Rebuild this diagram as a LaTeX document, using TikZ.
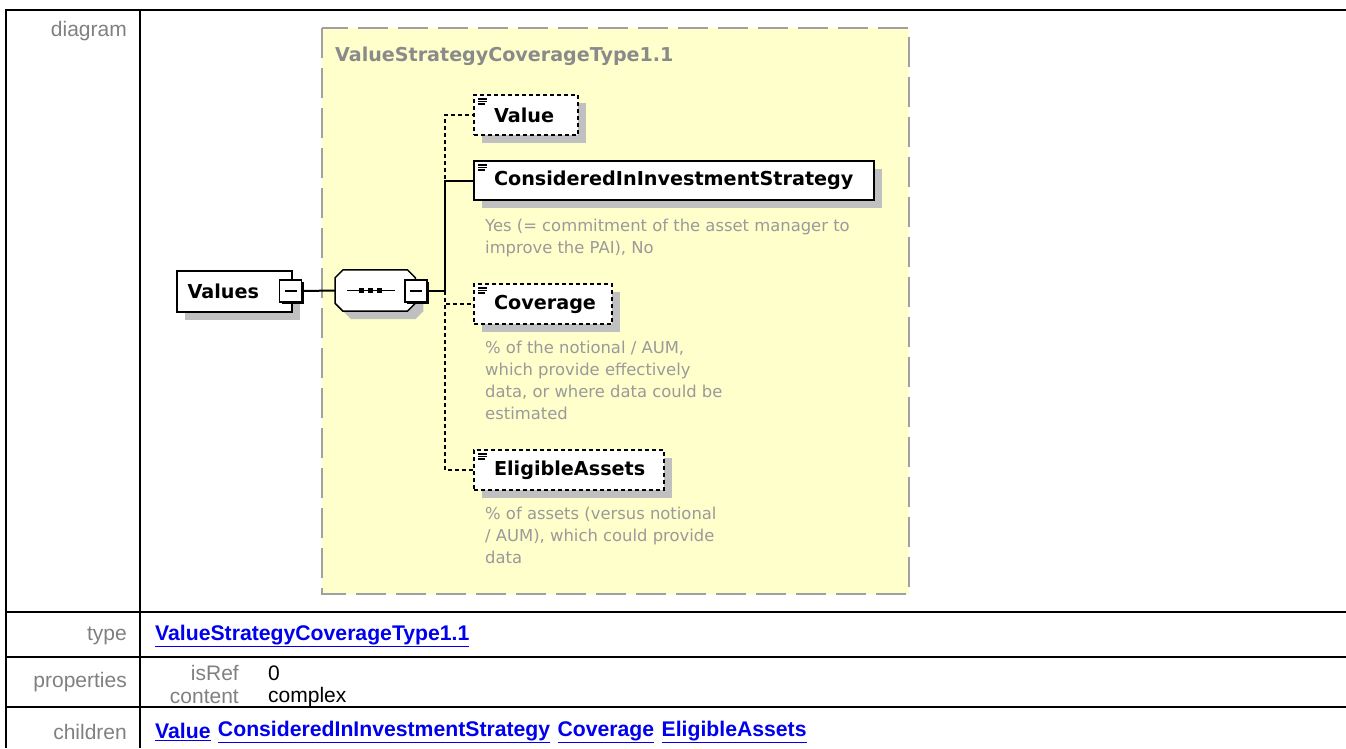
\documentclass[tikz,border=0pt]{standalone}
\usepackage{fontspec}
\setmainfont{Liberation Sans}
\newfontfamily\diagfont{DejaVu Sans}
\usetikzlibrary{positioning, shadows, calc}
\definecolor{xsyellow}{HTML}{FFFFCC}
\definecolor{xsframe}{HTML}{A0A0A0}
\definecolor{xsshade}{HTML}{C0C0C0}
\definecolor{xsdoc}{HTML}{9A9A9A}
\definecolor{xstitle}{HTML}{8A8A8A}
\definecolor{xslabel}{HTML}{808080}
\definecolor{xslink}{HTML}{0000EE}

% fixed-width label inside an element box
\newcommand\eltext[2]{\makebox[#1][l]{\hspace*{2.5pt}#2}}
% octagon of the sequence compositor, shifted by #1,#2
\newcommand\seqoutline[2]{([shift={(8+#1,#2)}]seq.north west) -- ([shift={(-8+#1,#2)}]seq.north east)
  -- ([shift={(#1,8+#2)}]seq.north east) -- ([shift={(#1,-8+#2)}]seq.south east)
  -- ([shift={(-8+#1,#2)}]seq.south east) -- ([shift={(8+#1,#2)}]seq.south west)
  -- ([shift={(#1,-8+#2)}]seq.south west) -- ([shift={(#1,8+#2)}]seq.north west) -- cycle}

\tikzset{
  tableline/.style={line width=2.5pt, black},
  rowlabel/.style={anchor=east, inner sep=0pt, text=xslabel, font=\fontsize{21}{25}\selectfont},
  propvalue/.style={anchor=west, inner sep=0pt, font=\fontsize{21}{25}\selectfont},
  linktext/.style={inner sep=0pt, text=xslink, font=\bfseries\fontsize{21.2}{25}\selectfont},
  elembox/.style={draw, fill=white, line width=2pt, anchor=north west,
    minimum height=40pt, inner xsep=17.5pt,
    font=\diagfont\bfseries\fontsize{19.2}{23}\selectfont,
    general shadow={fill=xsshade, shadow xshift=8pt, shadow yshift=-8pt},
    path picture={\draw[solid, line width=1.2pt]
      ([xshift=4pt, yshift=-4pt]path picture bounding box.north west) -- ++(9,0)
      ([xshift=4pt, yshift=-6.5pt]path picture bounding box.north west) -- ++(9,0)
      ([xshift=4pt, yshift=-9pt]path picture bounding box.north west) -- ++(7,0);}},
  optbox/.style={elembox, dash pattern=on 4pt off 3pt},
  minusbox/.style={draw, fill=white, line width=1.5pt, minimum size=22pt, inner sep=0pt,
    general shadow={fill=black, shadow xshift=2pt, shadow yshift=-2pt},
    path picture={\draw[line width=1.5pt]
      ([xshift=5pt]path picture bounding box.west) -- ([xshift=-5pt]path picture bounding box.east);}},
  doctext/.style={anchor=north west, inner sep=0pt, align=left, text=xsdoc,
    font=\diagfont\fontsize{16.4}{22}\selectfont},
  reqlink/.style={line width=2pt},
  optlink/.style={line width=2pt, dash pattern=on 4pt off 3pt},
}

\begin{document}
\begin{tikzpicture}[x=1pt, y=-1pt]
\useasboundingbox (0,0) rectangle (1346,748);

% table
\draw[tableline] (6,748) -- (6,10) -- (1346,10);
\draw[tableline] (140,10) -- (140,748);
\foreach \ry in {612,657,707}
  \draw[tableline] (6,\ry) -- (1346,\ry);

\node[rowlabel] (lbldiagram) at (127,31) {diagram};
\node[rowlabel] (lbltype) at (127,636) {type};
\node[rowlabel] (lblprops) at (127,682) {properties};
\node[rowlabel] (lblchildren) at (127,732) {children};

\node[linktext, anchor=west] (lnktype) at (155,636) {\underline{ValueStrategyCoverageType1.1}};
\node[rowlabel] (lblisref) at (239,673) {isRef};
\node[rowlabel] (lblcontent) at (239,697) {content};
\node[propvalue] (valisref) at (268,673) {0};
\node[propvalue] (valcontent) at (268,697) {complex};

\node[linktext, anchor=west] (lnkvalue) at (155,732) {\underline{Value}};
\node[linktext, right=7pt of lnkvalue] (lnkcis) {\underline{ConsideredInInvestmentStrategy}};
\node[linktext, right=7pt of lnkcis] (lnkcov) {\underline{Coverage}};
\node[linktext, right=7pt of lnkcov] (lnkelig) {\underline{EligibleAssets}};

% complex type frame
\draw[xsframe, line width=2pt, dash pattern=on 30pt off 10pt, fill=xsyellow] (322,28) rectangle (909,594);
\node[anchor=west, inner sep=0pt, text=xstitle, font=\diagfont\bfseries\fontsize{19.1}{23}\selectfont]
  (typetitle) at (335,56) {ValueStrategyCoverageType1.1};

% element and sequence
\node[draw, fill=white, line width=1.5pt, anchor=north west, minimum width=115pt, minimum height=41pt,
  general shadow={fill=xsshade, shadow xshift=8pt, shadow yshift=-8pt},
  font=\diagfont\bfseries\fontsize{19.2}{23}\selectfont] (vals) at (176,270) {Values\hspace{22pt}\mbox{}};
\node[minusbox] (valsminus) at (290.5,291) {};
\node[minimum width=80pt, minimum height=41pt, inner sep=0pt, anchor=west] (seq) at (335,290.5) {};
\fill[xsshade] \seqoutline{8}{8};
\filldraw[fill=white, line width=1.5pt] \seqoutline{0}{0};
\node[minusbox] (seqminus) at (416,291) {};
\draw[line width=1.5pt] ([xshift=12pt]seq.west) -- ([xshift=60pt]seq.west);
\foreach \dx in {26,35,44}
  \fill ([xshift=\dx pt]seq.west) +(-2.5,-2.5) rectangle +(2.5,2.5);

% children
\node[optbox] (value) at (473,94) {\eltext{69pt}{Value}};
\node[elembox, minimum height=39pt] (cis) at (473,160) {\eltext{365pt}{ConsideredInInvestmentStrategy}};
\node[optbox] (cov) at (473,283) {\eltext{103pt}{Coverage}};
\node[optbox] (elig) at (473,449) {\eltext{155pt}{EligibleAssets}};

\node[doctext, below=18pt of cis.south west, anchor=north west, xshift=12pt] (cisdoc)
  {Yes (= commitment of the asset manager to\\improve the PAI), No};
\node[doctext, below=16pt of cov.south west, anchor=north west, xshift=12pt] (covdoc)
  {\% of the notional / AUM,\\which provide effectively\\data, or where data could be\\estimated};
\node[doctext, below=16pt of elig.south west, anchor=north west, xshift=12pt] (eligdoc)
  {\% of assets (versus notional\\/ AUM), which could provide\\data};

% connectors
\draw[reqlink] (valsminus.east) -- (seq.west);
\draw[reqlink] (seqminus.east) -- ++(17,0) coordinate (trunk);
\draw[optlink] (trunk) |- (value.west);
\draw[optlink] (trunk) |- (cov.west);
\draw[optlink] (trunk) |- (elig.west);
\draw[reqlink] (trunk) |- (cis.west);
\end{tikzpicture}
\end{document}
